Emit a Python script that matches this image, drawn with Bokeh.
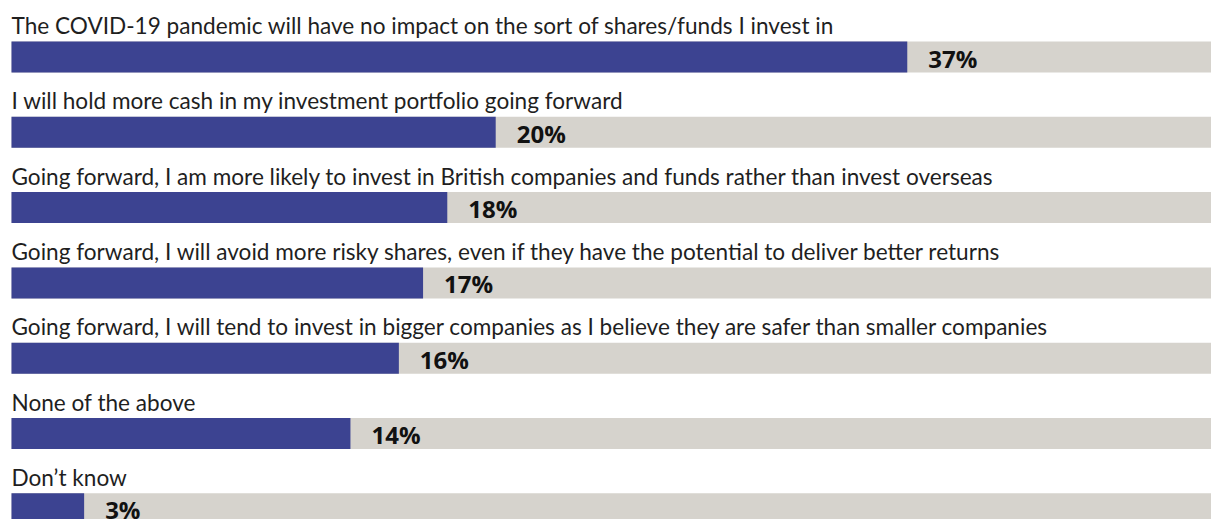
from bokeh.plotting import figure
from bokeh.models import ColumnDataSource, Range1d
from bokeh.core.properties import value
from bokeh.embed import file_html
from bokeh.resources import INLINE

categories = [
    "The COVID-19 pandemic will have no impact on the sort of shares/funds I invest in",
    "I will hold more cash in my investment portfolio going forward",
    "Going forward, I am more likely to invest in British companies and funds rather than invest overseas",
    "Going forward, I will avoid more risky shares, even if they have the potential to deliver better returns",
    "Going forward, I will tend to invest in bigger companies as I believe they are safer than smaller companies",
    "None of the above",
    "Don\u2019t know",
]
values = [37, 20, 18, 17, 16, 14, 3]
value_labels = [f"{v}%" for v in values]
background_max = [50] * len(values)

rows = [-i for i in range(len(values))]

W, H = 1211, 519
px_per_unit_x = 24.21
x0 = -11 / px_per_unit_x
row_px = 75.3
y_top = 56.5 / row_px

src = ColumnDataSource(dict(
    y=rows, v=values, bg=background_max, cat=categories, lab=value_labels,
    label_y=[r + 24.5 / row_px for r in rows],
))

p = figure(width=W, height=H, output_backend="svg", toolbar_location=None,
           x_range=Range1d(x0, x0 + W / px_per_unit_x),
           y_range=Range1d(y_top - H / row_px, y_top),
           min_border=0, outline_line_color=None)
p.axis.visible = False
p.grid.visible = False
p.background_fill_color = "white"
p.border_fill_color = "white"

bh = 31 / row_px
p.hbar(y="y", left=0, right="bg", height=bh, source=src, color="#D6D3CD", line_color=None)
p.hbar(y="y", left=0, right="v", height=bh, source=src, color="#3C4391", line_color=None)

p.text(x=0, y="label_y", text="cat", source=src, text_font=value("Lato"),
       text_font_size="22.6px", text_color="#1f1f1f", text_baseline="alphabetic",
       text_align="left", y_offset=-7)
p.text(x="v", y="y", text="lab", source=src, text_font=value("Open Sans"),
       text_font_size="24px", text_font_style="bold", text_color="#111111",
       text_baseline="middle", text_align="left", x_offset=21, y_offset=1)

open("out.html", "w").write(file_html(p, INLINE))
